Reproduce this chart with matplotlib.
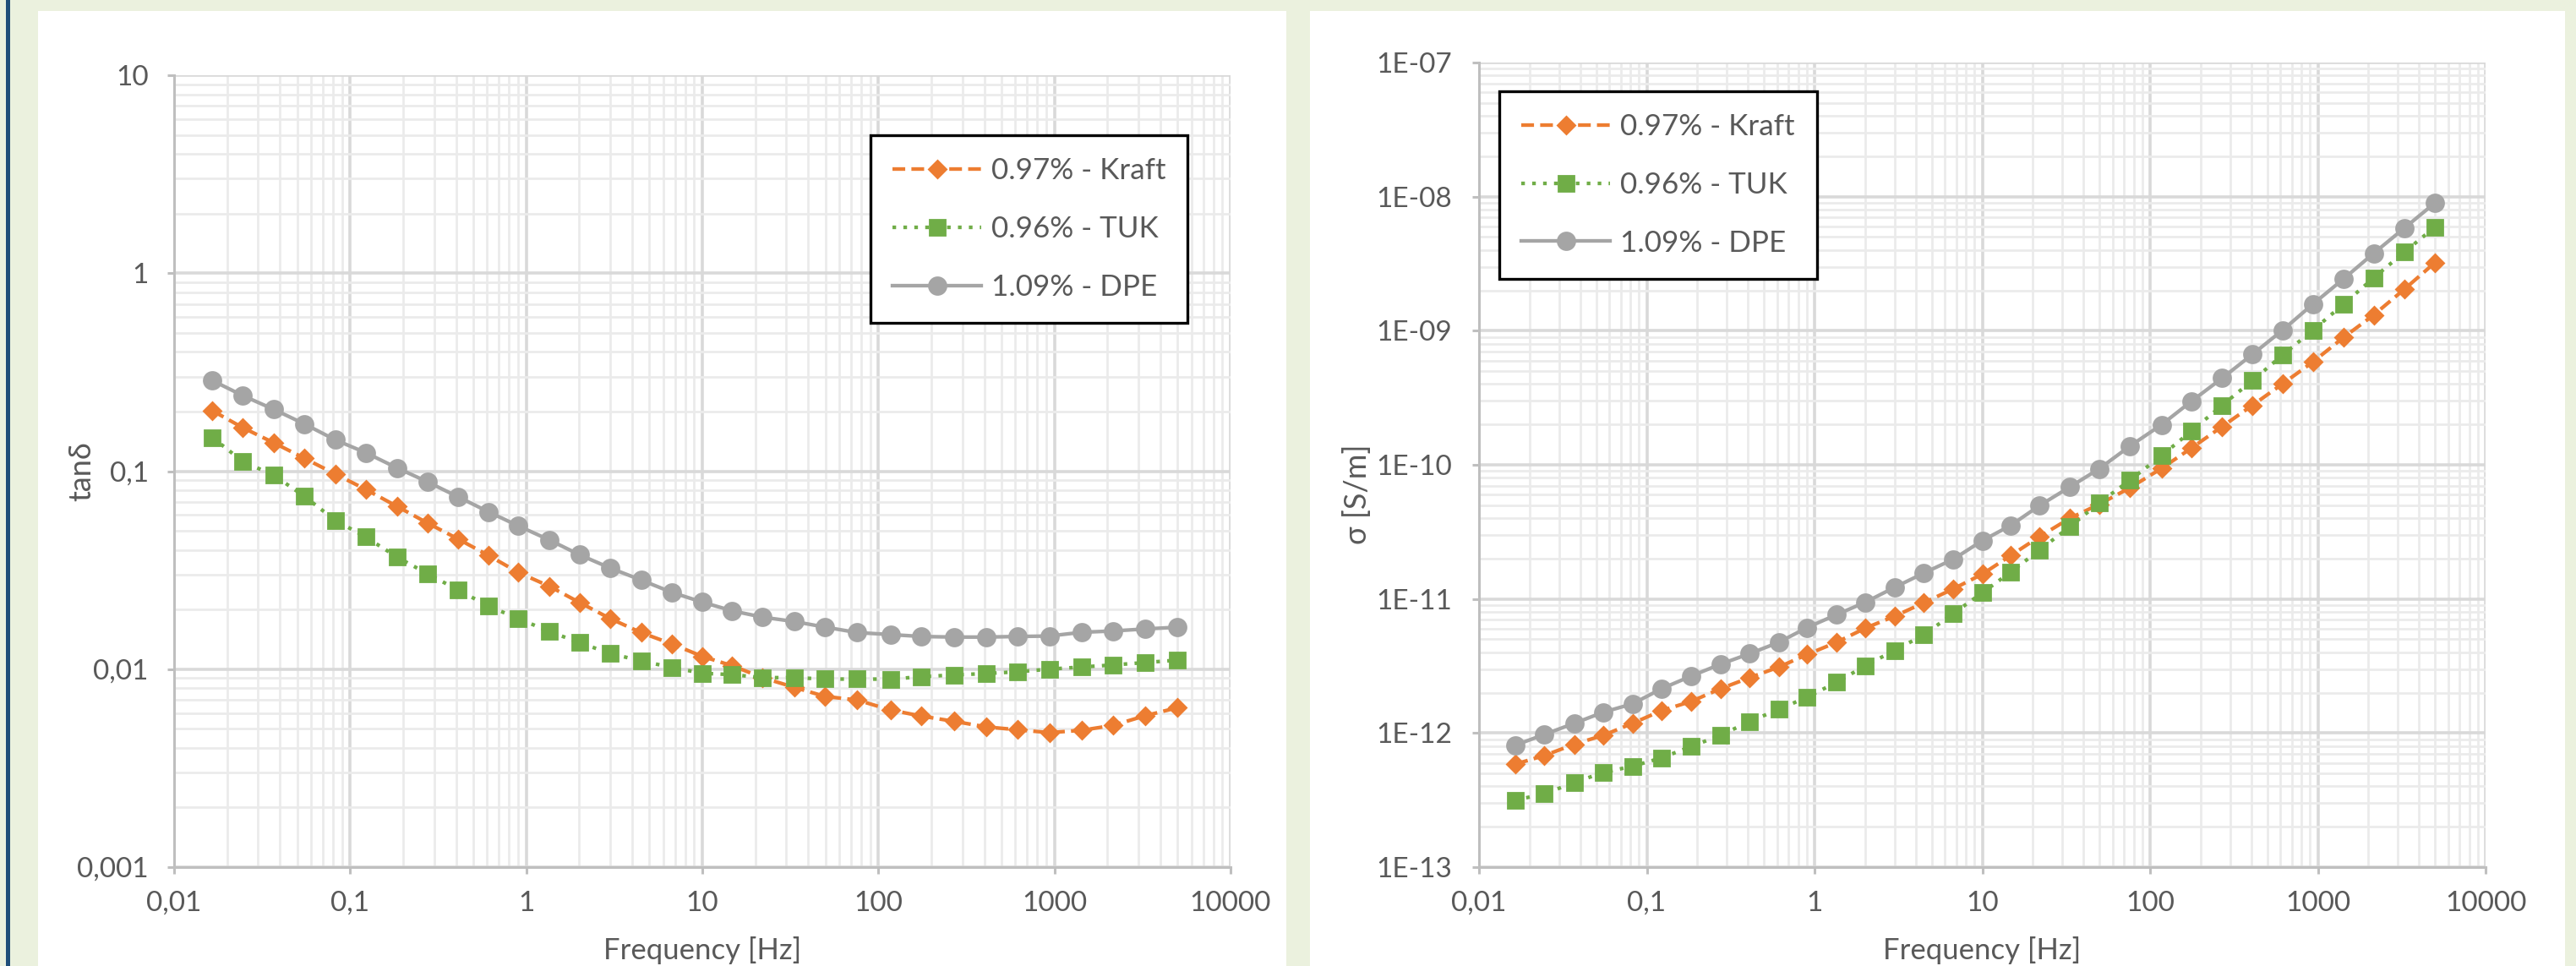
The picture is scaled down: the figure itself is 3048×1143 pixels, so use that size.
import numpy as np
import matplotlib
matplotlib.use('Agg')
import matplotlib.pyplot as plt
from matplotlib.patches import Rectangle
from matplotlib.ticker import LogLocator, NullFormatter

plt.rcParams['font.family'] = ['Lato', 'DejaVu Sans']

# frequencies [Hz]
freq = [0.0165, 0.0245, 0.0369, 0.0551, 0.0822, 0.1225, 0.184, 0.275, 0.411, 0.611,
        0.902, 1.355, 2.01, 3.0, 4.49, 6.73, 10.0, 14.8, 22.0, 33.3,
        49.8, 75.9, 117, 176, 269, 408, 617, 935, 1426, 2153, 3281, 4977]

# tan delta
tan_kraft = [0.202, 0.166, 0.139, 0.116, 0.0968, 0.0809, 0.0665, 0.0547, 0.0454, 0.0375,
             0.0308, 0.0262, 0.0217, 0.0180, 0.0153, 0.0134, 0.0116, 0.0104, 0.00906, 0.00809,
             0.00728, 0.00698, 0.00622, 0.00579, 0.00545, 0.00511, 0.00494, 0.00478, 0.00491, 0.00520,
             0.00582, 0.00638]
tan_tuk = [0.148, 0.112, 0.0953, 0.0745, 0.0565, 0.0465, 0.0369, 0.0303, 0.0251, 0.0208,
           0.0180, 0.0155, 0.0136, 0.0120, 0.0110, 0.0102, 0.00953, 0.00938, 0.00906, 0.00906,
           0.00891, 0.00891, 0.00890, 0.00916, 0.00935, 0.00950, 0.00970, 0.0100, 0.01025, 0.0105,
           0.0108, 0.0111]
tan_dpe = [0.287, 0.241, 0.205, 0.173, 0.144, 0.124, 0.104, 0.0883, 0.0741, 0.0623,
           0.0529, 0.0449, 0.0378, 0.0324, 0.0282, 0.0244, 0.0218, 0.0197, 0.0183, 0.0174,
           0.0163, 0.0153, 0.01495, 0.01462, 0.01452, 0.01452, 0.01462, 0.01470, 0.01535, 0.01559,
           0.01596, 0.01628]

# conductivity [S/m]
sig_kraft = [5.87e-13, 6.79e-13, 8.24e-13, 9.62e-13, 1.18e-12, 1.47e-12, 1.72e-12, 2.14e-12, 2.59e-12, 3.10e-12,
             3.85e-12, 4.75e-12, 6.06e-12, 7.43e-12, 9.37e-12, 1.19e-11, 1.53e-11, 2.11e-11, 2.92e-11, 4.00e-11,
             5.08e-11, 6.74e-11, 9.4e-11, 1.33e-10, 1.93e-10, 2.78e-10, 4.02e-10, 5.85e-10, 8.93e-10, 1.31e-9,
             2.04e-9, 3.21e-9]
sig_tuk = [3.16e-13, 3.52e-13, 4.27e-13, 5.08e-13, 5.65e-13, 6.53e-13, 7.93e-13, 9.62e-13, 1.22e-12, 1.50e-12,
           1.85e-12, 2.39e-12, 3.18e-12, 4.13e-12, 5.4e-12, 7.80e-12, 1.11e-11, 1.59e-11, 2.32e-11, 3.46e-11,
           5.21e-11, 7.67e-11, 1.17e-10, 1.78e-10, 2.78e-10, 4.25e-10, 6.59e-10, 1.01e-9, 1.58e-9, 2.48e-9,
           3.86e-9, 5.92e-9]
sig_dpe = [8.12e-13, 9.76e-13, 1.18e-12, 1.43e-12, 1.65e-12, 2.14e-12, 2.66e-12, 3.26e-12, 3.91e-12, 4.74e-12,
           6.11e-12, 7.64e-12, 9.45e-12, 1.22e-11, 1.56e-11, 1.98e-11, 2.72e-11, 3.54e-11, 4.98e-11, 6.84e-11,
           9.35e-11, 1.38e-10, 1.99e-10, 2.97e-10, 4.43e-10, 6.67e-10, 1.01e-9, 1.58e-9, 2.44e-9, 3.78e-9,
           5.83e-9, 8.95e-9]

labels = ['0.97% - Kraft', '0.96% - TUK', '1.09% - DPE']

xticks = [0.01, 0.1, 1, 10, 100, 1000, 10000]
xtick_labels = ['0,01', '0,1', '1', '10', '100', '1000', '10000']
yticks_tan = [0.001, 0.01, 0.1, 1, 10]
ytick_labels_tan = ['0,001', '0,01', '0,1', '1', '10']
yticks_sig = [1e-13, 1e-12, 1e-11, 1e-10, 1e-9, 1e-8, 1e-7]
ytick_labels_sig = ['1E-13', '1E-12', '1E-11', '1E-10', '1E-09', '1E-08', '1E-07']

W, H = 3048, 1143
DPI = 200
fig = plt.figure(figsize=(W / DPI, H / DPI), dpi=DPI, facecolor='#EBF1DE')

# white chart panels and the blue edge on the left
fig.add_artist(Rectangle((45 / W, 0), 1477 / W, 1 - 13 / H, transform=fig.transFigure,
                         facecolor='white', edgecolor='none', zorder=-10))
fig.add_artist(Rectangle((1550 / W, 0), 1485 / W, 1 - 13 / H, transform=fig.transFigure,
                         facecolor='white', edgecolor='none', zorder=-10))
fig.add_artist(Rectangle((7 / W, 0), 5 / W, 1, transform=fig.transFigure,
                         facecolor='#1F4E79', edgecolor='none', zorder=-10))

ax1 = fig.add_axes([206 / W, 117 / H, 1250 / W, 937 / H])
ax2 = fig.add_axes([1750 / W, 117 / H, 1191 / W, 952 / H])

orange = '#ED7D31'
green = '#70AD47'
grey = '#A5A5A5'
txt = '#595959'


def draw(ax, yk, yt, yd):
    ax.plot(freq, yk, color=orange, lw=1.55, dashes=(3.5, 1.7), marker='D', ms=5.2,
            mec=orange, mfc=orange, label=labels[0])
    ax.plot(freq, yt, color=green, lw=1.55, dashes=(1, 2.0), marker='s', ms=6.8,
            mec=green, mfc=green, label=labels[1])
    ax.plot(freq, yd, color=grey, lw=1.55, marker='o', ms=7.2,
            mec=grey, mfc=grey, label=labels[2])
    ax.set_xscale('log')
    ax.set_yscale('log')
    ax.set_xlim(xticks[0], xticks[-1])
    ax.set_xticks(xticks, xtick_labels)
    ax.xaxis.set_minor_locator(LogLocator(base=10, subs=np.arange(2, 10), numticks=100))
    ax.yaxis.set_minor_locator(LogLocator(base=10, subs=np.arange(2, 10), numticks=100))
    ax.xaxis.set_minor_formatter(NullFormatter())
    ax.yaxis.set_minor_formatter(NullFormatter())
    ax.grid(True, which='major', color='#D9D9D9', lw=1.3, zorder=0)
    ax.grid(True, which='minor', color='#EBEBEB', lw=1.0, zorder=0)
    ax.set_axisbelow(True)
    for s in ['top', 'right']:
        ax.spines[s].set_visible(False)
    for s in ['left', 'bottom']:
        ax.spines[s].set_color('#BFBFBF')
        ax.spines[s].set_linewidth(1.1)
    ax.tick_params(which='major', direction='out', length=2.9, width=1.1, color='#BFBFBF',
                   labelsize=12, labelcolor=txt)
    ax.tick_params(axis='x', which='major', pad=7.0)
    ax.tick_params(which='minor', length=0)
    ax.set_xlabel('Frequency [Hz]', fontsize=12.5, color=txt)


draw(ax1, tan_kraft, tan_tuk, tan_dpe)
ax1.set_ylim(yticks_tan[0], yticks_tan[-1])
ax1.set_yticks(yticks_tan, ytick_labels_tan)
ax1.tick_params(axis='y', which='major', pad=8.0)
ax1.set_ylabel('tanδ', fontsize=13, color=txt)
ax1.yaxis.set_label_coords(-0.074, 0.5)
ax1.xaxis.set_label_coords(0.5, -0.0875)

draw(ax2, sig_kraft, sig_tuk, sig_dpe)
ax2.set_ylim(yticks_sig[0], yticks_sig[-1])
ax2.set_yticks(yticks_sig, ytick_labels_sig)
ax2.tick_params(axis='y', which='major', pad=8.5)
ax2.set_ylabel('σ [S/m]', fontsize=13, color=txt)
ax2.yaxis.set_label_coords(-0.1066, 0.463)
ax2.xaxis.set_label_coords(0.5, -0.0861)

leg_kw = dict(loc='upper left', fontsize=12.6, frameon=True, fancybox=False, framealpha=1,
              edgecolor='black', borderpad=0.75, labelspacing=1.05, handlelength=3.0,
              handletextpad=0.33, borderaxespad=0, numpoints=1)
for ax, anchor in [(ax1, (0.659, 0.9242)), (ax2, (0.0202, 0.9643))]:
    leg = ax.legend(bbox_to_anchor=anchor, **leg_kw)
    leg.get_frame().set_linewidth(1.2)
    for t in leg.get_texts():
        t.set_color(txt)

fig.savefig('out.png', dpi=DPI, facecolor=fig.get_facecolor())
